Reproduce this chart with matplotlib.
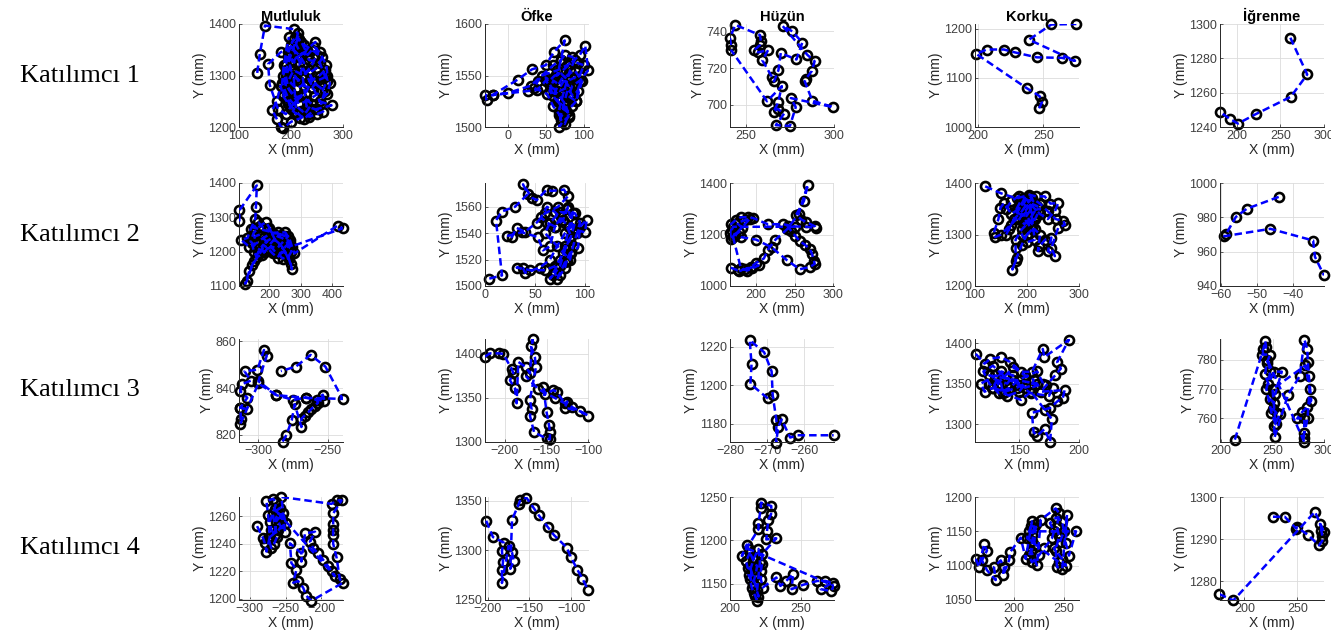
import matplotlib
matplotlib.use("Agg")
import matplotlib.pyplot as plt

# Katılımcı 1
k1_mut_x = [135, 140, 150, 205, 213, 210, 220, 200, 215, 230, 247, 250, 240, 225, 205, 195, 210, 230, 255, 265, 270, 260,
            245, 230, 215, 205, 195, 190, 200, 210, 225, 235, 255, 265, 275, 270, 255, 278, 250, 235, 225, 210, 195, 185,
            180, 173, 164, 173, 181, 185, 200, 218, 230, 240, 220, 200, 190, 175, 159, 156, 180, 200, 215, 225, 240, 260,
            250, 235, 245, 265, 258,
            200, 205, 195, 190, 185, 190, 185, 195, 200, 210, 205, 215, 220, 225, 215, 205, 195, 200, 210, 225, 240, 250,
            262, 270, 268, 255, 245, 232, 220, 212, 200, 190, 188, 198, 212, 228, 240, 235, 222, 230, 245, 262, 250, 235,
            220, 200, 192, 183, 186, 196]
k1_mut_y = [1305, 1342, 1397, 1390, 1382, 1360, 1340, 1330, 1320, 1350, 1365, 1340, 1320, 1300, 1310, 1290, 1275, 1285,
            1300, 1310, 1290, 1270, 1260, 1250, 1245, 1260, 1275, 1300, 1320, 1335, 1345, 1330, 1325, 1300, 1285, 1265,
            1250, 1242, 1235, 1225, 1215, 1230, 1245, 1260, 1280, 1251, 1233, 1215, 1200, 1198, 1210, 1217, 1230, 1245,
            1260, 1240, 1225, 1235, 1282, 1322, 1345, 1355, 1370, 1360, 1350, 1335, 1315, 1305, 1285, 1270, 1245,
            1360, 1370, 1345, 1320, 1300, 1280, 1265, 1250, 1235, 1225, 1300, 1290, 1310, 1325, 1340, 1350, 1335, 1310,
            1295, 1280, 1275, 1290, 1295, 1300, 1320, 1345, 1355, 1340, 1365, 1375, 1340, 1310, 1290, 1270, 1258, 1265,
            1290, 1310, 1300, 1240, 1235, 1230, 1225, 1220, 1232, 1250, 1262, 1285, 1320, 1375]
k1_ofk_x = [-28, -30, -20, 13, 32, 50, 61, 75, 70, 65, 80, 95, 102, 106, 95, 85, 80, 90, 98, 88, 78, 70, 60, 55, 65, 75,
            80, 72, 68, 70, 75, 80, 72, 66, 60, 55, 50, 39, 27, -20,
            0, 30, 60, 70, 75, 85, 92, 100, 95, 88, 80, 70, 62, 55, 50, 58, 68, 78, 86, 92, 96, 90, 84, 78, 72, 66, 62,
            70, 76, 80, 75, 70, 67, 73, 82, 88, 78, 65, 45, 40, 35, 52, 60, 68, 74]
k1_ofk_y = [1526, 1531, 1531, 1546, 1556, 1560, 1573, 1584, 1565, 1550, 1560, 1570, 1579, 1555, 1545, 1540, 1530, 1525,
            1545, 1555, 1550, 1540, 1545, 1535, 1525, 1520, 1510, 1505, 1500, 1512, 1525, 1540, 1548, 1540, 1530, 1540,
            1545, 1536, 1535, 1531,
            1533, 1540, 1560, 1565, 1570, 1568, 1562, 1560, 1550, 1548, 1545, 1552, 1550, 1545, 1548, 1538, 1535, 1538,
            1530, 1535, 1545, 1525, 1520, 1515, 1518, 1525, 1535, 1528, 1522, 1512, 1503, 1507, 1515, 1532, 1555, 1565,
            1560, 1555, 1550, 1545, 1538, 1532, 1520, 1512, 1510]
k1_huz_x = [241.5, 241, 244, 258, 258.5, 258, 254.7, 257, 262.6, 259.4, 264.7, 266, 268.5, 269.8, 278.7, 282, 276.4,
            270.8, 284.9, 289, 287.4, 284, 283.4, 287.7, 299.6, 275.5, 278.3, 275, 267, 271.7, 268, 265.7, 268.3,
            270.4, 262, 241.5]
k1_huz_y = [732.6, 736.5, 743.5, 738, 734.7, 732.5, 729.8, 728.6, 729.8, 724.2, 715.4, 712.8, 719, 728.2, 724.7, 733.9,
            740, 743, 727.2, 723.7, 718.4, 714.2, 712.8, 702.3, 698.8, 703.7, 698.8, 688.6, 689, 695.3, 697.9, 696.1,
            701.4, 710.2, 702, 730]
k1_kor_x = [246.7, 248.8, 247, 237.4, 199, 206.8, 219.9, 228.5, 244.9, 264, 274, 239, 256, 275]
k1_kor_y = [1038, 1050, 1063, 1079, 1149, 1158, 1158, 1152, 1142, 1141, 1135, 1178, 1209, 1210]
k1_igr_x = [261.5, 280.8, 262, 222, 201.5, 193, 180.8]
k1_igr_y = [1292, 1270.6, 1257.6, 1247.5, 1242, 1244.5, 1248.8]

# Katılımcı 2
k2_mut_x = [104, 104, 160, 157, 155, 140, 130, 110, 135, 160, 180, 200, 226, 251, 265, 272, 280, 418, 434, 270, 253, 240,
            226, 210, 195, 180, 165, 152, 136, 123, 128, 145, 170, 190, 210, 230, 250, 262, 272, 268, 255, 240, 220, 200,
            189, 170, 150, 140, 160, 185, 205, 225, 245, 260,
            150, 165, 180, 195, 210, 225, 240, 255, 262, 250, 235, 218, 200, 185, 170, 155, 145, 150, 160, 175, 190, 205,
            220, 238, 250, 265, 270, 260, 242, 228]
k2_mut_y = [1288, 1320, 1393, 1330, 1295, 1265, 1240, 1234, 1215, 1225, 1240, 1250, 1256, 1256, 1235, 1215, 1195, 1276,
            1268, 1215, 1217, 1200, 1183, 1195, 1210, 1220, 1200, 1173, 1144, 1107, 1115, 1160, 1195, 1230, 1240, 1225,
            1200, 1180, 1149, 1165, 1190, 1215, 1230, 1270, 1286, 1275, 1255, 1230, 1210, 1200, 1215, 1210, 1230, 1245,
            1270, 1285, 1270, 1265, 1255, 1245, 1240, 1230, 1210, 1200, 1195, 1200, 1220, 1235, 1250, 1245, 1225, 1200,
            1185, 1190, 1205, 1225, 1240, 1250, 1245, 1225, 1200, 1185, 1180, 1195]
k2_ofk_x = [4.3, 17, 11, 16.7, 30, 43, 38, 46.7, 51.7, 61.7, 66.7, 79, 83, 73, 60, 51.7, 40, 31.7, 26.7, 22, 36.7, 53, 58,
            65, 70, 78, 83, 88, 100, 101.7, 95, 93, 85, 81.7, 80, 75, 68, 65, 72, 78, 85, 90, 80, 72, 65, 55, 40, 38,
            31.7, 45, 60, 70, 75, 80, 84, 88, 75, 65, 60,
            85, 88, 92, 95, 90, 82, 76, 70, 62, 56, 62, 70, 80, 86, 80, 75, 70, 72, 80, 86]
k2_ofk_y = [1505.6, 1508, 1549.6, 1556.4, 1560, 1569.7, 1577, 1567, 1565, 1573, 1572, 1573, 1568, 1560, 1555, 1548, 1541,
            1544, 1537, 1537.8, 1540.7, 1537, 1527, 1530, 1545, 1550, 1560, 1543, 1540.7, 1550, 1545, 1529, 1525, 1519,
            1514, 1508, 1508, 1505.6, 1515, 1525, 1535, 1548, 1540, 1530, 1520, 1514, 1510, 1513.6, 1514, 1512, 1512,
            1515, 1520, 1530, 1545, 1555, 1556, 1548, 1540,
            1520, 1530, 1540, 1548, 1555, 1558, 1552, 1545, 1548, 1552, 1560, 1556, 1548, 1538, 1528, 1515, 1510, 1505,
            1518, 1525]
k2_huz_x = [167, 176, 185, 193.5, 200, 210, 215, 225, 240, 255, 267, 262, 252, 258.7, 265, 276, 277, 265, 241, 245.6,
            251, 256.5, 263, 270, 272.6, 275, 276, 270, 256.5, 240, 220, 200, 180, 172, 167, 166.5, 167, 174, 180, 189,
            196, 215, 235, 250,
            170, 168, 172, 178, 182, 175, 185, 192, 170, 180, 188, 195, 203, 178]
k2_huz_y = [1071, 1061, 1065, 1074, 1090, 1107, 1140, 1180, 1220, 1280, 1394, 1330, 1277, 1258, 1248, 1232, 1226, 1230,
            1232, 1213, 1194, 1174, 1161, 1142, 1123, 1097, 1086, 1074, 1065, 1100, 1150, 1180, 1190, 1200, 1181, 1206,
            1239, 1258, 1267, 1267, 1264, 1240, 1240, 1230,
            1230, 1215, 1200, 1210, 1225, 1245, 1255, 1262, 1190, 1070, 1060, 1068, 1080, 1058]
k2_kor_x = [119.6, 150, 180, 204.6, 217.6, 234, 245, 260, 253.6, 240, 225, 210, 195, 185, 170, 155.6, 149, 145, 136, 139,
            150, 168.6, 180, 195, 205, 215, 200, 190, 178, 178, 178, 172, 180, 190, 200, 215, 225, 221, 224, 235, 247,
            240.5, 253.6, 247, 260, 273, 270, 255, 240, 225, 210, 200, 190, 175, 165, 160,
            195, 205, 212, 200, 192, 185, 195, 205, 215, 220, 208, 198, 188, 180, 185, 200, 210, 218, 225, 205, 195, 210,
            200, 190, 200, 215, 205, 185, 170, 160]
k2_kor_y = [1393.5, 1380, 1370, 1377, 1374, 1374, 1360, 1361, 1345, 1330, 1340, 1355, 1365, 1350, 1340, 1361, 1352, 1330,
            1303, 1295, 1300, 1319, 1330, 1340, 1350, 1330, 1320, 1310, 1290, 1273, 1248, 1232, 1255, 1280, 1300, 1310,
            1300, 1268, 1277, 1290, 1294, 1268, 1258, 1274, 1313, 1319, 1326, 1330, 1345, 1360, 1370, 1360, 1345, 1330,
            1310, 1300,
            1370, 1375, 1365, 1350, 1340, 1330, 1320, 1330, 1345, 1355, 1360, 1355, 1365, 1350, 1340, 1335, 1320, 1335,
            1350, 1345, 1330, 1310, 1300, 1300, 1285, 1290, 1365, 1375, 1365, 1350]
k2_igr_x = [-44, -52.8, -55.8, -58.5, -59, -46.3, -34.5, -34, -31.5]
k2_igr_y = [991.9, 985, 980.3, 970.4, 969, 973.3, 966.5, 957, 946.2]

# Katılımcı 3
k3_mut_x = [-282.6, -279.8, -276, -273.8, -269, -269, -266.7, -264, -262, -259.5, -257, -258, -253.6, -252.4, -266,
            -287, -300, -313, -312.6, -313, -308, -313, -308, -313, -312, -305.5, -310, -300.7, -296, -294, -300, -287,
            -275, -266, -239.3, -251.7, -262.4, -273, -283.8]
k3_mut_y = [817.2, 820, 826.2, 833.1, 823.4, 826.9, 828.3, 829.7, 831, 832.4, 833.8, 835, 837.2, 834.5, 835.9, 837, 842,
            824.8, 826.9, 831.7, 831, 831.7, 835.9, 838.6, 841.7, 843.2, 847.2, 847.9, 856.3, 853.8, 843, 837, 835,
            835.9, 835.4, 849.2, 854.2, 849.2, 847.3]
k3_ofk_x = [-224, -218, -206.8, -202, -192, -190, -194, -188, -186, -184, -174.8, -170, -166.8, -168.8, -164, -162.8,
            -170, -168, -170, -165, -150, -146, -146, -147, -150, -154, -152, -142, -138, -128, -125, -128, -110, -100,
            -120, -140, -160, -175]
k3_ofk_y = [1397, 1400.7, 1400.7, 1400, 1383, 1378.5, 1370, 1361, 1344, 1391, 1385, 1378, 1416.7, 1409, 1396, 1385,
            1348, 1337, 1330, 1311, 1304, 1303, 1311, 1319, 1334, 1363, 1354, 1359, 1357, 1344, 1346, 1339, 1335, 1330,
            1340, 1350, 1360, 1375]
k3_huz_x = [-269.8, -274.5, -274.2, -274.7, -270.8, -268.8, -268.5, -267.5, -267.6, -267, -266.1, -263.8, -261.8, -252.1]
k3_huz_y = [1193.1, 1200.7, 1211, 1223.4, 1217.1, 1207.2, 1194.8, 1181.7, 1170, 1178.3, 1182.2, 1172.8, 1174, 1174]
k3_kor_x = [113.6, 121, 125.8, 134.8, 142.4, 151.5, 160.6, 169.7, 171, 191.5, 181.8, 184.8, 180.3, 172.7, 168, 188, 186.4,
            181.8, 175.8, 171.2, 160.6, 162, 165, 171.2, 175.8, 177.3, 160, 151.5, 136.4, 134.8, 127, 121, 118, 130, 145,
            155, 165,
            125, 130, 140, 145, 135, 128, 138, 148, 155, 150, 140, 132, 145, 155, 162, 160, 170, 165, 150, 142, 133, 125,
            120, 128, 138, 150, 160, 175, 178]
k3_kor_y = [1386.7, 1374.6, 1380.6, 1382.7, 1376.6, 1364.5, 1364.5, 1392.7, 1382.7, 1404, 1376.6, 1368.5, 1360.5, 1348,
            1340, 1342, 1332, 1328, 1320, 1318, 1314, 1290, 1286, 1294, 1278, 1306, 1340, 1330, 1338, 1350, 1344, 1340,
            1350, 1360, 1355, 1345, 1350,
            1360, 1355, 1350, 1360, 1365, 1345, 1340, 1345, 1350, 1340, 1335, 1350, 1370, 1360, 1355, 1345, 1350, 1365,
            1355, 1345, 1338, 1350, 1365, 1372, 1358, 1348, 1338, 1335, 1345]
k3_igr_x = [213.4, 241.2, 242.8, 243.8, 240.2, 247.7, 244.4, 242.8, 246, 251.6, 259, 252.6, 247.7, 251.6, 250.3, 254.2,
            256.9, 251.6, 252, 265, 276.5, 281, 283.7, 284.3, 285.3, 287.6, 283.7, 278.8, 274, 281, 280.4, 281,
            245, 248, 244, 249, 253, 250, 282, 286, 284, 281]
k3_igr_y = [752.8, 783.7, 786.3, 784.4, 781.7, 781.7, 778.9, 775, 771.7, 775.9, 775.9, 768.3, 766.7, 765.2, 763.3, 761.7,
            761.4, 757.4, 753.6, 768, 774.4, 786.7, 783.7, 779.2, 774.4, 766.1, 763.9, 762.2, 760, 760, 753.3, 751.9,
            780, 776, 770, 762, 758, 770, 778, 770, 760, 755]

# Katılımcı 4
k4_mut_x = [-289.8, -281.4, -279, -276.7, -272, -274.4, -276.7, -267.4, -262.8, -272, -269.8, -265, -262.8, -258, -251,
            -255.8, -186, -179, -172, -183.7, -183.7, -183.7, -183.7, -183.7, -179, -174.4, -170, -214, -221, -225.6,
            -232.6, -239.5, -235, -242, -244, -228, -228, -223, -209, -216, -211.6, -204.7, -197.7, -190.7, -186, -181.4,
            -265, -260, -255, -258, -268, -262, -266, -270, -274, -260, -250, -253, -264]
k4_mut_y = [1252.8, 1244, 1240.3, 1234.3, 1245, 1260.7, 1271, 1272.7, 1270, 1256, 1250, 1246.3, 1259.5, 1253.5, 1248.7,
            1274, 1269, 1271.5, 1271.5, 1262, 1254.7, 1250, 1246, 1240, 1230, 1214, 1211.6, 1198.4, 1202, 1208, 1212.8,
            1211.6, 1221, 1226, 1240.3, 1233, 1227, 1247.5, 1248.7, 1241.5, 1236.7, 1233, 1228.3, 1223.5, 1220, 1216.4,
            1265, 1262, 1258, 1266, 1262, 1245, 1240, 1237, 1244, 1250, 1255, 1262, 1256]
k4_ofk_x = [-201.6, -193.6, -180.8, -182.8, -181.6, -182.8, -182.8, -174.8, -170.8, -168.8, -172.8, -170.8, -162.8,
            -160.8, -153.6, -144.8, -138.8, -128, -120.8, -105.6, -100.8, -92.8, -86.8, -80]
k4_ofk_y = [1330, 1313.6, 1308, 1299.7, 1288, 1280, 1267.2, 1304.6, 1298, 1289.7, 1281.5, 1331, 1346.7, 1351, 1353.3,
            1342.7, 1335.4, 1323.5, 1315.6, 1303, 1293.7, 1280.5, 1271.5, 1260]
k4_huz_x = [218.9, 217.7, 216.5, 215.3, 214, 215.3, 212.3, 211.3, 214, 211.8, 208.3, 220, 220, 221.7, 221.7, 229, 228.8,
            227, 226, 225.5, 232.5, 222.4, 222.4, 221.7, 221.7, 223, 232.5, 235.4, 239.4, 244.3, 243.2, 251.2, 261.3,
            267, 272, 263.7, 270.8, 273,
            213, 216, 219, 218, 216, 213, 217, 220, 221, 219, 220, 214]
k4_huz_y = [1130, 1135.8, 1139.6, 1145.4, 1155, 1164.6, 1168.5, 1176, 1185.8, 1195, 1182, 1212.7, 1220, 1237.7, 1243.5,
            1239.6, 1230, 1224, 1211, 1201, 1202.3, 1183.8, 1172.3, 1164.6, 1155, 1145.4, 1157, 1147.3, 1153, 1160.8,
            1143.5, 1148.5, 1153, 1153, 1151, 1143.5, 1141.5, 1147.3,
            1190, 1178, 1170, 1160, 1150, 1160, 1180, 1190, 1175, 1142, 1135, 1170]
k4_kor_x = [161.7, 165, 170, 173, 168, 173, 181.7, 180, 186.7, 190, 189, 195, 196, 206.7, 211.7, 218, 220, 218.3, 216.7,
            223, 226.7, 241.7, 245, 243, 245, 241.7, 243, 248.3, 253, 251.7, 255, 262,
            215, 218, 222, 220, 215, 218, 225, 230, 238, 240, 236, 242, 248, 250, 246, 240, 248, 252, 245, 213, 217]
k4_kor_y = [1110, 1098, 1131, 1122, 1107.6, 1093.4, 1079, 1098, 1107.6, 1098, 1086, 1107.6, 1119.4, 1140.8, 1110, 1164.5,
            1155, 1136, 1122, 1100.5, 1166.8, 1183.4, 1176.3, 1157.3, 1143, 1122, 1098, 1095.7, 1174, 1133.6, 1114.7,
            1150,
            1150, 1145, 1160, 1130, 1115, 1105, 1115, 1125, 1140, 1150, 1162, 1170, 1165, 1150, 1135, 1125, 1110, 1100,
            1105, 1140, 1158]
k4_igr_x = [226.9, 238, 248.7, 249.7, 259.8, 270.3, 273.4, 273.4, 272.5, 271.2, 275, 266.5, 189.6, 176.3]
k4_igr_y = [1295.3, 1295.3, 1292.5, 1292.8, 1291, 1288.5, 1289.6, 1290.8, 1292, 1293.6, 1291.6, 1296.5, 1275.4, 1276.9]

basliklar = ["Mutluluk", "Öfke", "Hüzün", "Korku", "İğrenme"]
satirlar = ["Katılımcı 1", "Katılımcı 2", "Katılımcı 3", "Katılımcı 4"]

veriler = [
    [(k1_mut_x, k1_mut_y), (k1_ofk_x, k1_ofk_y), (k1_huz_x, k1_huz_y), (k1_kor_x, k1_kor_y), (k1_igr_x, k1_igr_y)],
    [(k2_mut_x, k2_mut_y), (k2_ofk_x, k2_ofk_y), (k2_huz_x, k2_huz_y), (k2_kor_x, k2_kor_y), (k2_igr_x, k2_igr_y)],
    [(k3_mut_x, k3_mut_y), (k3_ofk_x, k3_ofk_y), (k3_huz_x, k3_huz_y), (k3_kor_x, k3_kor_y), (k3_igr_x, k3_igr_y)],
    [(k4_mut_x, k4_mut_y), (k4_ofk_x, k4_ofk_y), (k4_huz_x, k4_huz_y), (k4_kor_x, k4_kor_y), (k4_igr_x, k4_igr_y)],
]

# eksen sinirlari ve tikler (xlim, ylim, xticks, yticks)
eksenler = [
    [((100, 300), (1200, 1400), [100, 200, 300], [1200, 1300, 1400]),
     ((-30, 107), (1500, 1600), [0, 50, 100], [1500, 1550, 1600]),
     ((241, 300), (688, 744), [250, 300], [700, 720, 740]),
     ((198, 277), (1000, 1210), [200, 250], [1000, 1100, 1200]),
     ((181, 300), (1240, 1300), [200, 250, 300], [1240, 1260, 1280, 1300])],
    [((103, 435), (1100, 1400), [200, 300, 400], [1100, 1200, 1300, 1400]),
     ((0, 104), (1500, 1578), [0, 50, 100], [1500, 1520, 1540, 1560]),
     ((166, 301), (1000, 1400), [200, 250, 300], [1000, 1200, 1400]),
     ((100, 300), (1200, 1400), [100, 200, 300], [1200, 1300, 1400]),
     ((-60.2, -31.5), (940, 1000), [-60, -50, -40], [940, 960, 980, 1000])],
    [((-314, -239), (817, 861), [-300, -250], [820, 840, 860]),
     ((-224, -99), (1300, 1417), [-200, -150, -100], [1300, 1350, 1400]),
     ((-279.3, -252), (1170.5, 1224), [-280, -270, -260], [1180, 1200, 1220]),
     ((113, 200), (1278, 1405), [150, 200], [1300, 1350, 1400]),
     ((199, 300), (752, 787), [200, 250, 300], [760, 770, 780]),
     ],
    [((-315, -170), (1199, 1274), [-300, -250, -200], [1200, 1220, 1240, 1260]),
     ((-203, -79), (1250, 1354), [-200, -150, -100], [1250, 1300, 1350]),
     ((200, 273), (1131, 1250), [200, 250], [1150, 1200, 1250]),
     ((161, 265), (1050, 1200), [200, 250], [1050, 1100, 1150, 1200]),
     ((177, 275), (1275.5, 1300), [200, 250], [1280, 1290, 1300])],
]

W, H = 1331, 639
sol = [239, 485, 730, 975, 1220]
ust = [24, 183, 339, 497]
gen, yuk = 104, 103

fig = plt.figure(figsize=(W / 100, H / 100), dpi=100)
koyu = "#262626"

for r in range(4):
    for c in range(5):
        ax = fig.add_axes([sol[c] / W, 1 - (ust[r] + yuk) / H, gen / W, yuk / H])
        x, y = veriler[r][c]
        # once halkalar, sonra kesikli mavi cizgi ustte
        ax.plot(x, y, linestyle="none", marker="o", markersize=6.5, markerfacecolor="none",
                markeredgecolor="black", markeredgewidth=1.9, zorder=2, clip_on=False)
        ax.plot(x, y, color="blue", linestyle=(0, (3.0, 1.6)), linewidth=1.8, zorder=3)
        xl, yl, xt, yt = eksenler[r][c]
        ax.set_xlim(xl)
        ax.set_ylim(yl)
        ax.set_xticks(xt)
        ax.set_yticks(yt)
        ax.grid(True, color="#dcdcdc", linewidth=0.6)
        ax.set_axisbelow(True)
        for s in ["top", "right"]:
            ax.spines[s].set_visible(False)
        for s in ["left", "bottom"]:
            ax.spines[s].set_color(koyu)
            ax.spines[s].set_linewidth(0.7)
        ax.tick_params(direction="in", length=2, width=0.6, colors="#404040", labelsize=9, pad=2)
        ax.set_xlabel("X (mm)", fontsize=10, color=koyu, labelpad=1, family="Liberation Sans")
        ax.set_ylabel("Y (mm)", fontsize=10, color=koyu, labelpad=1, family="Liberation Sans")
        for lab in ax.get_xticklabels() + ax.get_yticklabels():
            lab.set_family("Liberation Sans")
        if r == 0:
            ax.set_title(basliklar[c], fontsize=10.5, fontweight="bold", pad=2, family="Liberation Sans")
    fig.text(20 / W, 1 - (ust[r] + yuk / 2) / H, satirlar[r], fontsize=19, family="Liberation Serif",
             ha="left", va="center")

fig.savefig("out.png", dpi=100)
